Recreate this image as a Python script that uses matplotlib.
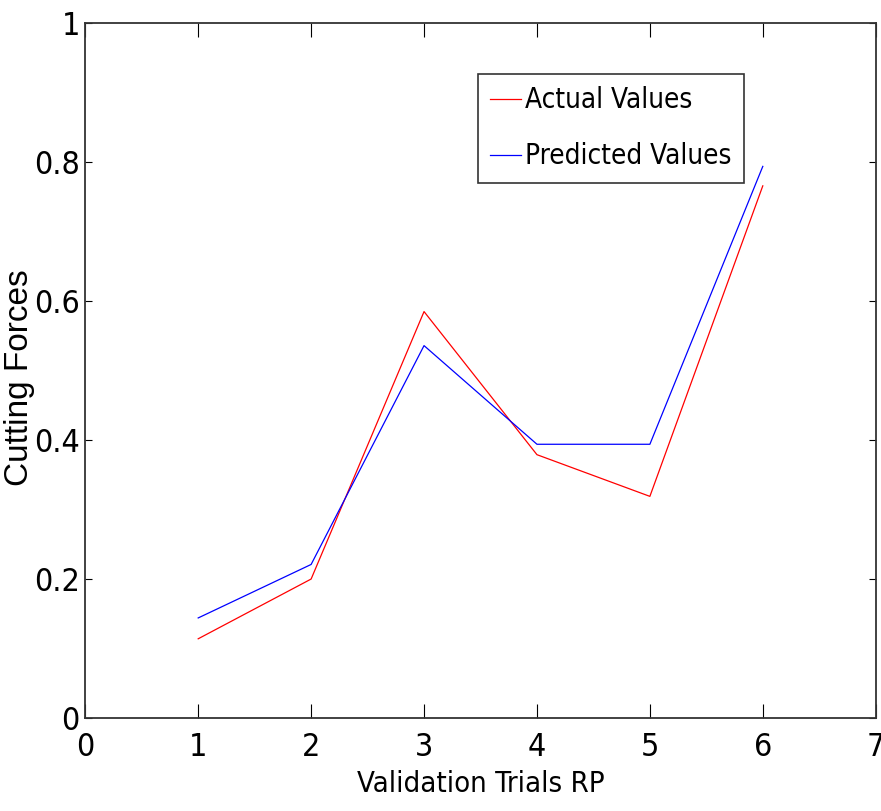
import numpy as np
import matplotlib
matplotlib.use('Agg')
import matplotlib.pyplot as plt

plt.rcParams['font.family'] = ['DejaVu Sans']
plt.rcParams['font.stretch'] = 'condensed'

# validation trial data
trials = [1, 2, 3, 4, 5, 6]
actual = [0.114, 0.200, 0.585, 0.379, 0.319, 0.766]
predicted = [0.144, 0.221, 0.536, 0.394, 0.394, 0.794]

xticks = [0, 1, 2, 3, 4, 5, 6, 7]
yticks = [0, 0.2, 0.4, 0.6, 0.8, 1]
ytick_labels = ['0', '0.2', '0.4', '0.6', '0.8', '1']

fig = plt.figure(figsize=(8.81, 8.11), dpi=100)
ax = fig.add_axes([0.0968, 0.1147, 0.8972, 0.8566])

ax.plot(trials, actual, color='#ff0000', lw=0.9, label='Actual Values')
ax.plot(trials, predicted, color='#0000ff', lw=0.9, label='Predicted Values')

ax.set_xlim(0, 7)
ax.set_ylim(0, 1)
ax.set_xticks(xticks)
ax.set_yticks(yticks)
ax.set_yticklabels(ytick_labels)

ax.tick_params(axis='both', direction='in', top=True, right=True,
               labelsize=23, width=0.8, colors='black')
ax.tick_params(axis='x', length=10, pad=10)
ax.tick_params(axis='y', length=5, pad=4)
for s in ax.spines.values():
    s.set_linewidth(1.3)
    s.set_color('#333333')

ax.set_xlabel('Validation Trials RP', fontsize=21, labelpad=5)
fig.text(0.022, 0.534, 'Cutting Forces', rotation=90, fontsize=24,
         family='Liberation Sans', stretch='normal', ha='center', va='center')

leg = ax.legend(loc='upper right', bbox_to_anchor=(0.8334, 0.927),
                borderaxespad=0, fontsize=20, fancybox=False, framealpha=1,
                edgecolor='#333333', handlelength=1.1, handletextpad=0.15,
                borderpad=0.45, labelspacing=1.0)
leg.get_frame().set_linewidth(1.2)

plt.savefig('out.png', dpi=100)
